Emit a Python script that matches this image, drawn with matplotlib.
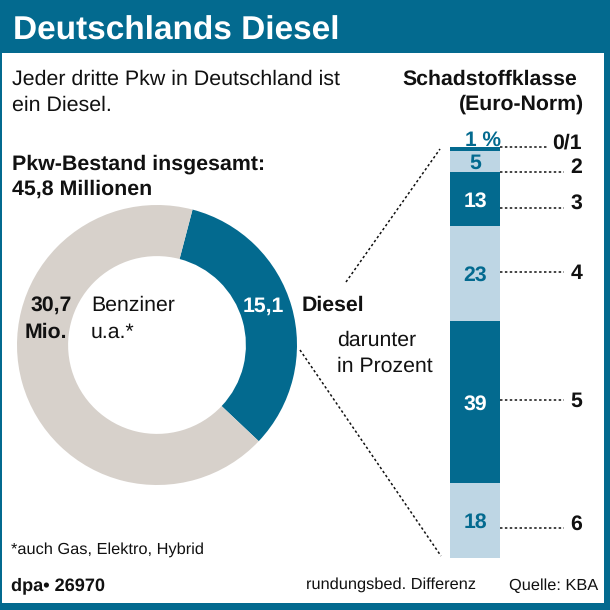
import matplotlib
matplotlib.use("Agg")
import matplotlib.pyplot as plt
from matplotlib.patches import Rectangle

plt.rcParams["font.family"] = ["Liberation Sans", "DejaVu Sans"]
plt.rcParams["text.hinting"] = "none"
plt.rcParams["text.hinting_factor"] = 8

TEAL = "#036a8f"
LIGHT = "#bed6e4"
GREY = "#d7d1cb"

# Pkw-Bestand in Mio.
donut_labels = ["Diesel", "Benziner u.a."]
donut_values = [15.1, 30.7]

# Diesel nach Schadstoffklasse, in Prozent
klassen = ["0/1", "2", "3", "4", "5", "6"]
anteile = [1, 5, 13, 23, 39, 18]
anteil_labels = ["1 %", "5", "13", "23", "39", "18"]

W, H = 610, 610
fig = plt.figure(figsize=(W / 100, H / 100), dpi=100)

# page layer in pixel coordinates
bg = fig.add_axes([0, 0, 1, 1], zorder=0)
bg.set_xlim(0, W)
bg.set_ylim(H, 0)
bg.axis("off")
bg.add_patch(Rectangle((0, 0), W, 53, color=TEAL, lw=0))
bg.add_patch(Rectangle((0, 603), W, 7, color=TEAL, lw=0))
bg.add_patch(Rectangle((0, 0), 2, H, color=TEAL, lw=0))
bg.add_patch(Rectangle((604, 0), 6, H, color=TEAL, lw=0))

# text and leader lines go on top of the charts
top = fig.add_axes([0, 0, 1, 1], zorder=5)
top.set_xlim(0, W)
top.set_ylim(H, 0)
top.axis("off")


def pax(x0, y0, x1, y1):
    # axes from pixel box, y counted from the top
    return fig.add_axes([x0 / W, 1 - y1 / H, (x1 - x0) / W, (y1 - y0) / H], zorder=1)


# donut
ax_d = pax(17, 205, 297, 485)
ax_d.pie(
    donut_values,
    colors=[TEAL, GREY],
    startangle=75.3,
    counterclock=False,
    radius=1.0,
    wedgeprops={"width": 0.365, "linewidth": 0},
)
ax_d.set_xlim(-1, 1)
ax_d.set_ylim(-1, 1)

# stacked bar
ax_b = pax(450, 147, 500, 558)
ax_b.set_xlim(0, 1)
ax_b.set_ylim(sum(anteile), 0)
ax_b.axis("off")
bottom = 0
for i, (wert, label) in enumerate(zip(anteile, anteil_labels)):
    col = TEAL if i % 2 == 0 else LIGHT
    ax_b.bar(0.5, wert, width=1, bottom=bottom, color=col, linewidth=0)
    if i > 0:
        ax_b.text(0.5, bottom + wert / 2, label, ha="center", va="center_baseline", fontsize=15.3,
                  fontweight="bold", color="white" if i % 2 == 0 else TEAL)
    bottom += wert


def txt(x, y, s, size=15.3, weight="normal", color="#111111", ha="left"):
    top.text(x, y, s, fontsize=size, fontweight=weight, color=color, ha=ha, va="center_baseline")


txt(13, 28, "Deutschlands Diesel", 24, "bold", "white")
txt(12, 77, "Jeder dritte Pkw in Deutschland ist", 15.4)
txt(12, 103, "ein Diesel.", 15.4)
txt(12, 162, "Pkw-Bestand insgesamt:", 15.4, "bold")
txt(12, 187, "45,8 Millionen", 15.4, "bold")
txt(402, 77, "Schadstoffklasse", 15.3, "bold")
txt(584, 102, "(Euro-Norm)", 15.3, "bold", ha="right")
txt(72, 303, "30,7", 15.3, "bold", ha="right")
txt(67, 330, "Mio.", 15.3, "bold", ha="right")
txt(91, 303, "Benziner", 15.3)
txt(91, 330, "u.a.*", 15.3)
txt(243, 304, "15,1", 15.3, "bold", "white")
txt(302, 303, "Diesel", 15.3, "bold")
txt(337, 338, "darunter", 15.3)
txt(337, 364, "in Prozent", 15.3)
txt(11, 548, "*auch Gas, Elektro, Hybrid", 11.8)
txt(11, 584, "dpa• 26970", 13.1, "bold")
txt(306, 583, "rundungsbed. Differenz", 11.8)
txt(509, 584, "Quelle: KBA", 11.8)
txt(483, 138, "1 %", 15, "bold", TEAL, ha="center")

# leader lines and class labels
dots = {"ls": (0, (1.6, 1.6)), "lw": 1.1, "color": "#111111"}
klasse_y = [147, 172, 208, 272, 400, 528]
klasse_end = [548, 564, 564, 564, 564, 564]
text_y = [141, 165, 201, 271, 399, 522]
for name, ly, lx, ty in zip(klassen, klasse_y, klasse_end, text_y):
    top.plot([500, lx], [ly, ly], **dots)
    txt(582, ty, name, 15.3, "bold", ha="right")
top.plot([346, 440], [282, 149], **dots)
top.plot([300, 441], [350, 556], **dots)

fig.savefig("out.png", dpi=100)
